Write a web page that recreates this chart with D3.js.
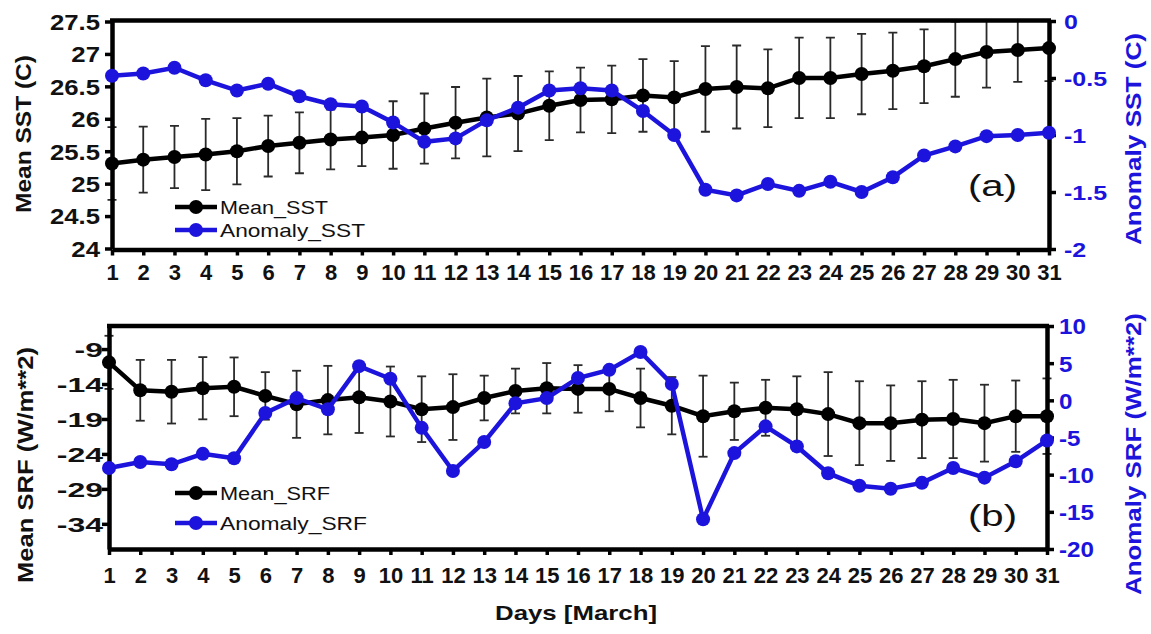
<!DOCTYPE html>
<html>
<head>
<meta charset="utf-8">
<script src="https://cdn.jsdelivr.net/npm/d3@7"></script>
<style>
  body { margin: 0; background: #fff; }
  svg { display: block; }
  text { font-family: "Liberation Sans", Arial, sans-serif; }
</style>
</head>
<body>
<svg id="chart" width="1151" height="634"></svg>
<script>
// days of March
const days = [1, 2, 3, 4, 5, 6, 7, 8, 9, 10, 11, 12, 13, 14, 15, 16, 17, 18, 19, 20, 21, 22, 23, 24, 25, 26, 27, 28, 29, 30, 31];

// panel (a)
const meanSST = [25.31, 25.37, 25.41, 25.45, 25.50, 25.58, 25.63, 25.68, 25.71, 25.75, 25.85, 25.94, 26.02, 26.08, 26.20, 26.29,
  26.30, 26.36, 26.33, 26.46, 26.49, 26.47, 26.63, 26.63, 26.69, 26.74, 26.81, 26.92, 27.03, 27.06, 27.09];
const sstErr = [0.56, 0.51, 0.48, 0.55, 0.51, 0.47, 0.47, 0.46, 0.44, 0.52, 0.54, 0.55, 0.60, 0.58, 0.53, 0.50,
  0.52, 0.56, 0.56, 0.66, 0.64, 0.60, 0.62, 0.62, 0.62, 0.59, 0.57, 0.58, 0.55, 0.49, 0.51];
const anomSST = [-0.48, -0.46, -0.41, -0.52, -0.61, -0.55, -0.66, -0.73, -0.75, -0.89, -1.06, -1.03, -0.87, -0.76, -0.61, -0.59,
  -0.61, -0.79, -1.00, -1.48, -1.53, -1.43, -1.49, -1.41, -1.50, -1.37, -1.18, -1.10, -1.01, -1.00, -0.98];
const sstTicks = [24, 24.5, 25, 25.5, 26, 26.5, 27, 27.5];
const anomSSTTicks = [-2, -1.5, -1, -0.5, 0];

// panel (b)
const meanSRF = [-10.9, -14.9, -15.1, -14.6, -14.4, -15.7, -16.9, -16.3, -15.9, -16.5, -17.6, -17.3, -16.0, -15.0, -14.6, -14.7,
  -14.7, -16.0, -17.1, -18.6, -17.9, -17.4, -17.6, -18.3, -19.6, -19.6, -19.1, -19.0, -19.6, -18.6, -18.6];
const srfErr = [3.8, 4.35, 4.55, 4.45, 4.2, 3.4, 4.8, 4.9, 5.1, 5.0, 4.7, 4.7, 3.2, 3.2, 3.6, 3.4,
  3.2, 4.2, 4.1, 5.8, 4.1, 4.0, 4.7, 6.0, 6.0, 5.4, 5.5, 5.6, 5.5, 5.1, 5.4];
const anomSRF = [-9.1, -8.3, -8.6, -7.2, -7.8, -1.7, 0.3, -1.2, 4.6, 2.9, -3.7, -9.5, -5.6, -0.4, 0.3, 3.0,
  4.1, 6.5, 2.2, -16.0, -7.1, -3.5, -6.2, -9.8, -11.5, -11.9, -11.1, -9.1, -10.4, -8.2, -5.4];
const srfTicks = [-34, -29, -24, -19, -14, -9];
const anomSRFTicks = [-20, -15, -10, -5, 0, 5, 10];

const BLUE = '#1c14dc';
const svg = d3.select('#chart');

function drawPanel(p) {
  let x = d3.scaleLinear().domain([1, 31]).range([p.left, p.right]);
  let yL = d3.scaleLinear().domain(p.leftDomain).range(p.leftRange);
  let yR = d3.scaleLinear().domain(p.rightDomain).range(p.rightRange);

  let g = svg.append('g');

  g.append('clipPath').attr('id', 'clip' + p.id)
    .append('rect')
    .attr('x', p.left - 10).attr('y', p.top)
    .attr('width', p.right - p.left + 20).attr('height', p.bottom - p.top);

  // error bars
  let eb = g.append('g').attr('clip-path', 'url(#clip' + p.id + ')')
    .attr('stroke', '#2a2a2a').attr('stroke-width', 1.8);
  days.forEach((d, i) => {
    let hi = yL(p.mean[i] + p.err[i]), lo = yL(p.mean[i] - p.err[i]);
    eb.append('line').attr('x1', x(d)).attr('x2', x(d)).attr('y1', hi).attr('y2', lo);
    eb.append('line').attr('x1', x(d) - 4.5).attr('x2', x(d) + 4.5).attr('y1', hi).attr('y2', hi);
    eb.append('line').attr('x1', x(d) - 4.5).attr('x2', x(d) + 4.5).attr('y1', lo).attr('y2', lo);
  });

  // axes / frame
  let xAxis = g.append('g')
    .attr('transform', 'translate(0,' + p.bottom + ')')
    .call(d3.axisBottom(x).tickValues(days).tickSize(6).tickSizeOuter(0).tickPadding(p.xPad));
  xAxis.selectAll('text').attr('font-size', 22).attr('font-weight', 'bold').attr('fill', '#111');

  let lAxis = g.append('g')
    .attr('transform', 'translate(' + p.left + ',0)')
    .call(d3.axisLeft(yL).tickValues(p.leftTicks).tickFormat(d => String(d)).tickSize(7).tickSizeOuter(0));
  lAxis.selectAll('text')
    .attr('font-size', p.lFont).attr('font-weight', 'bold').attr('fill', '#111')
    .attr('transform', 'scale(' + p.lScale + ',1)')
    .attr('x', -p.lGap / p.lScale).attr('dy', '0.36em');

  let rAxis = g.append('g')
    .attr('transform', 'translate(' + p.right + ',0)')
    .call(d3.axisRight(yR).tickValues(p.rightTicks).tickFormat(d => String(d)).tickSize(7).tickSizeOuter(0));
  rAxis.selectAll('text')
    .attr('font-size', p.rFont).attr('font-weight', 'bold').attr('fill', BLUE)
    .attr('transform', 'scale(' + p.rScale + ',1)')
    .attr('x', p.rGap / p.rScale).attr('dy', '0.36em');

  [xAxis, lAxis, rAxis].forEach(a => {
    a.select('.domain').attr('stroke', '#000').attr('stroke-width', 4.5);
    a.selectAll('.tick line').attr('stroke', '#000').attr('stroke-width', 3.5);
  });

  g.append('line')
    .attr('x1', x(1) - 2).attr('x2', x(31) + 2)
    .attr('y1', p.top).attr('y2', p.top)
    .attr('stroke', '#000').attr('stroke-width', 4.5);

  // mean line (black)
  let line = d3.line().x((d, i) => x(days[i]));
  g.append('path')
    .attr('d', line.y(d => yL(d))(p.mean))
    .attr('fill', 'none').attr('stroke', '#000').attr('stroke-width', 4.5);
  g.append('g').selectAll('circle')
    .data(p.mean).enter().append('circle')
    .attr('cx', (d, i) => x(days[i])).attr('cy', d => yL(d)).attr('r', 7)
    .attr('fill', '#000');

  // anomaly line (blue)
  g.append('path')
    .attr('d', line.y(d => yR(d))(p.anom))
    .attr('fill', 'none').attr('stroke', BLUE).attr('stroke-width', 4.5);
  g.append('g').selectAll('circle')
    .data(p.anom).enter().append('circle')
    .attr('cx', (d, i) => x(days[i])).attr('cy', d => yR(d)).attr('r', 7)
    .attr('fill', BLUE);

  // legend
  p.legend.forEach(l => {
    g.append('line').attr('x1', 175).attr('x2', 217).attr('y1', l.y).attr('y2', l.y)
      .attr('stroke', l.color).attr('stroke-width', 4.5);
    g.append('circle').attr('cx', 196).attr('cy', l.y).attr('r', 7).attr('fill', l.color);
    g.append('text').attr('x', 220).attr('y', l.y + 7)
      .attr('font-size', 19).attr('textLength', l.len).attr('lengthAdjust', 'spacingAndGlyphs')
      .attr('fill', '#111').text(l.name);
  });

  // titles
  g.append('text')
    .attr('transform', 'translate(' + p.lTitle.x + ',' + p.lTitle.y + ') rotate(-90)')
    .attr('text-anchor', 'middle').attr('font-size', 22).attr('font-weight', 'bold')
    .attr('textLength', p.lTitle.len).attr('lengthAdjust', 'spacingAndGlyphs')
    .attr('fill', '#111').text(p.lTitle.text);
  g.append('text')
    .attr('transform', 'translate(' + p.rTitle.x + ',' + p.rTitle.y + ') rotate(-90)')
    .attr('text-anchor', 'middle').attr('font-size', 22).attr('font-weight', 'bold')
    .attr('textLength', p.rTitle.len).attr('lengthAdjust', 'spacingAndGlyphs')
    .attr('fill', BLUE).text(p.rTitle.text);

  g.append('text')
    .attr('x', 968).attr('y', p.tagY)
    .attr('font-size', 30).attr('font-family', '"DejaVu Sans", sans-serif')
    .attr('textLength', 49).attr('lengthAdjust', 'spacingAndGlyphs')
    .attr('fill', '#111').text(p.tag);
}

drawPanel({
  id: 'a', left: 112, right: 1049, top: 20.5, bottom: 249.5, xPad: 9,
  leftDomain: [24, 27.5], leftRange: [248.5, 21.5],
  rightDomain: [-2, 0], rightRange: [249, 21],
  leftTicks: sstTicks, rightTicks: anomSSTTicks,
  lFont: 22, lScale: 1.17, lGap: 12,
  rFont: 20, rScale: 1.25, rGap: 15,
  mean: meanSST, err: sstErr, anom: anomSST,
  legend: [
    { name: 'Mean_SST', y: 207, color: '#000', len: 108 },
    { name: 'Anomaly_SST', y: 230, color: BLUE, len: 145 }
  ],
  lTitle: { text: 'Mean SST (C)', x: 31, y: 134, len: 158 },
  rTitle: { text: 'Anomaly SST (C)', x: 1141, y: 139, len: 212 },
  tag: '(a)', tagY: 196
});

drawPanel({
  id: 'b', left: 109, right: 1047, top: 326, bottom: 549, xPad: 12,
  leftDomain: [-37.6, -5.7], leftRange: [549, 326],
  rightDomain: [-20, 10], rightRange: [549, 326],
  leftTicks: srfTicks, rightTicks: anomSRFTicks,
  lFont: 20, lScale: 1.6, lGap: 6,
  rFont: 22, rScale: 1.1, rGap: 12,
  mean: meanSRF, err: srfErr, anom: anomSRF,
  legend: [
    { name: 'Mean_SRF', y: 493, color: '#000', len: 110 },
    { name: 'Anomaly_SRF', y: 523, color: BLUE, len: 147 }
  ],
  lTitle: { text: 'Mean SRF (W/m**2)', x: 33, y: 465, len: 236 },
  rTitle: { text: 'Anomaly SRF (W/m**2)', x: 1141, y: 454, len: 282 },
  tag: '(b)', tagY: 526
});

svg.append('text')
  .attr('x', 576).attr('y', 620)
  .attr('text-anchor', 'middle').attr('font-size', 21).attr('font-weight', 'bold')
  .attr('textLength', 162).attr('lengthAdjust', 'spacingAndGlyphs')
  .attr('fill', '#111').text('Days [March]');
</script>
</body>
</html>
